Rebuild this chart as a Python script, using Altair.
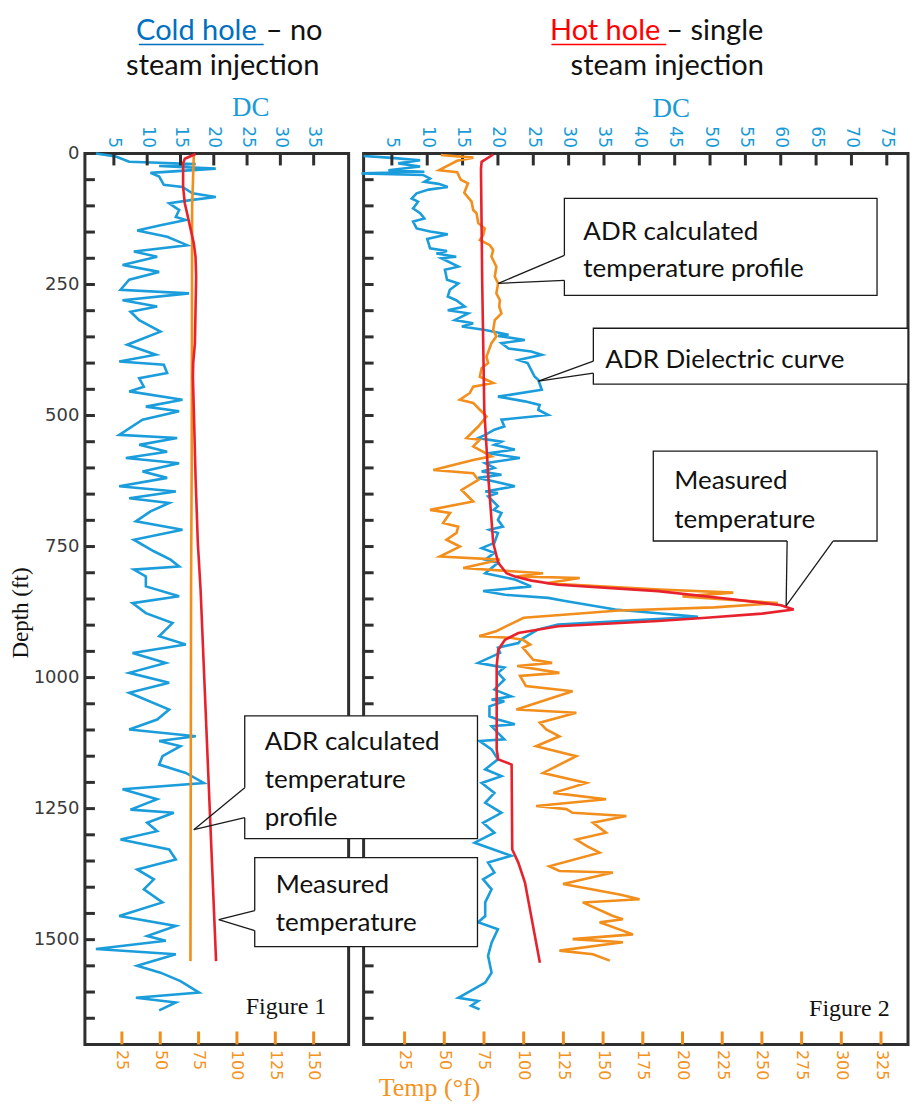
import altair as alt
import pandas as pd

# ---------------- data ----------------
# Left panel (cold hole) - ADR dielectric constant (DC) vs depth
L_DC_DEPTH = [0, 6, 16, 20, 24, 29, 37, 44, 60, 64,
              76, 83, 89, 95, 108, 121, 127, 137, 147, 159,
              175, 187, 197, 213, 226, 241, 260, 267, 280, 292,
              302, 318, 340, 365, 384, 397, 403, 419, 429, 445,
              454, 470, 483, 492, 508, 537, 543, 556, 569, 581,
              591, 607, 619, 635, 645, 658, 667, 683, 702, 718,
              737, 759, 775, 788, 794, 807, 826, 845, 858, 877,
              896, 921, 937, 953, 972, 991, 1010, 1029, 1061, 1080,
              1099, 1112, 1121, 1131, 1150, 1166, 1182, 1201, 1213, 1232,
              1252, 1258, 1277, 1293, 1309, 1328, 1347, 1366, 1385, 1404,
              1429, 1455, 1474, 1493, 1502, 1518, 1528, 1550, 1563, 1579,
              1601, 1611, 1620, 1635]
L_DC = [2.3, 5.3, 7.3, 17.3, 11.8, 20.3, 10.5, 11.8, 12.5, 15.3,
        16.8, 20.3, 16.5, 13.3, 14.8, 14.3, 15.8, 12.0, 8.5, 13.0,
        16.0, 8.0, 11.5, 6.3, 11.8, 7.3, 6.0, 16.3, 6.3, 11.5,
        7.5, 8.8, 12.0, 7.0, 11.3, 5.8, 12.5, 13.0, 8.8, 9.5,
        7.3, 15.3, 9.8, 14.8, 9.3, 5.8, 14.5, 8.8, 13.0, 6.8,
        14.8, 9.3, 13.0, 5.8, 14.3, 7.3, 13.3, 10.5, 8.3, 15.3,
        8.0, 11.0, 13.5, 14.8, 8.0, 9.8, 9.8, 14.8, 7.8, 9.8,
        13.8, 11.8, 15.8, 7.8, 12.8, 7.3, 13.3, 7.3, 13.3, 11.5,
        7.3, 17.3, 11.8, 15.0, 12.3, 11.8, 15.8, 18.5, 6.3, 11.5,
        7.5, 14.0, 10.0, 11.5, 6.0, 13.3, 14.3, 8.5, 11.0, 9.5,
        12.3, 5.8, 14.3, 10.0, 12.8, 2.3, 14.3, 8.5, 12.0, 15.0,
        17.8, 8.3, 14.3, 11.8]

# Left panel temperatures (deg F)
L_CALC_DEPTH = [1, 100, 600, 820, 1541]
L_CALC = [71.9, 70.8, 70.5, 70.1, 69.7]
L_MEAS_DEPTH = [1, 10, 19, 64, 95, 114, 143, 172, 197, 235,
                299, 362, 400, 426, 489, 616, 743, 832, 1541]
L_MEAS = [73.0, 66.0, 64.9, 64.9, 66.0, 67.5, 69.7, 71.9, 73.0, 73.4,
          73.0, 72.6, 71.5, 71.3, 71.9, 73.0, 74.5, 76.3, 86.4]

# Right panel (hot hole) - DC vs depth
R_DC_DEPTH = [5, 8, 13, 19, 25, 32, 35, 38, 41, 48,
              54, 58, 64, 69, 76, 86, 92, 105, 114, 124,
              130, 143, 149, 154, 163, 172, 181, 186, 191, 197,
              200, 216, 222, 241, 248, 260, 273, 280, 292, 299,
              305, 318, 324, 330, 337, 346, 348, 356, 362, 372,
              378, 384, 394, 400, 426, 432, 451, 464, 473, 480,
              489, 499, 508, 521, 527, 537, 543, 550, 556, 565,
              572, 581, 591, 600, 607, 613, 619, 626, 635, 645,
              648, 654, 673, 680, 686, 699, 712, 718, 724, 743,
              753, 762, 775, 781, 801, 813, 826, 835, 842, 848,
              854, 870, 884, 899, 908, 927, 934, 943, 953, 972,
              981, 991, 1004, 1023, 1036, 1042, 1045, 1055, 1074, 1080,
              1089, 1093, 1118, 1121, 1137, 1156, 1175, 1188, 1201, 1220,
              1239, 1258, 1277, 1296, 1315, 1340, 1353, 1372, 1385, 1404,
              1429, 1455, 1467, 1480, 1506, 1531, 1563, 1582, 1611, 1617,
              1626, 1633]
R_DC = [1.0, 4.5, 9.0, 5.9, 9.0, 4.5, 9.6, 0.7, 9.4, 10.4,
        9.6, 11.6, 12.9, 10.2, 8.5, 7.8, 8.7, 8.0, 9.0, 9.6,
        8.0, 8.5, 10.4, 12.9, 10.0, 10.2, 10.4, 12.8, 11.3, 14.1,
        12.0, 14.4, 12.5, 12.8, 14.4, 13.2, 12.9, 14.1, 15.3, 12.9,
        15.8, 13.9, 16.5, 14.9, 18.2, 21.5, 20.0, 23.8, 20.5, 21.5,
        24.7, 26.2, 22.9, 24.2, 25.2, 25.7, 26.2, 20.0, 23.8, 25.9,
        25.7, 27.1, 20.5, 20.9, 19.5, 18.2, 17.2, 20.5, 19.5, 22.4,
        18.6, 23.1, 18.2, 19.5, 17.7, 20.5, 17.2, 19.5, 22.4, 18.2,
        20.0, 18.6, 20.0, 19.4, 20.5, 20.0, 20.7, 18.8, 20.0, 19.5,
        17.7, 19.5, 18.2, 20.0, 18.2, 22.4, 24.7, 17.9, 21.0, 27.1,
        29.5, 36.6, 48.3, 28.5, 25.7, 23.3, 22.9, 20.0, 20.3, 17.2,
        20.9, 20.0, 20.9, 19.5, 21.9, 19.1, 20.9, 18.8, 18.8, 20.0,
        22.4, 19.1, 20.9, 17.4, 19.1, 20.0, 18.2, 20.5, 17.7, 19.5,
        18.2, 20.5, 17.9, 19.5, 16.7, 21.9, 18.6, 19.5, 17.9, 19.1,
        18.2, 18.2, 17.2, 20.0, 19.1, 18.6, 19.1, 18.2, 14.4, 17.2,
        16.2, 17.4]

# Right panel - ADR calculated temperature profile (deg F)
R_CALC_DEPTH = [3, 8, 14, 32, 36, 50, 57, 75, 92, 108,
                114, 133, 143, 156, 165, 175, 184, 197, 216, 235,
                248, 267, 280, 292, 305, 318, 337, 349, 362, 388,
                400, 410, 426, 438, 445, 457, 470, 476, 489, 502,
                521, 543, 546, 559, 578, 585, 604, 610, 623, 642,
                664, 680, 686, 705, 712, 724, 737, 750, 769, 775,
                791, 801, 807, 810, 820, 832, 838, 845, 858, 866,
                872, 880, 886, 896, 911, 921, 924, 928, 937, 943,
                966, 972, 978, 991, 997, 1016, 1026, 1061, 1067, 1086,
                1099, 1112, 1131, 1150, 1182, 1201, 1220, 1232, 1245, 1251,
                1258, 1264, 1277, 1296, 1309, 1321, 1334, 1360, 1369, 1372,
                1394, 1414, 1423, 1429, 1455, 1461, 1467, 1490, 1499, 1505,
                1521, 1528, 1540]
R_CALC = [47.8, 68.3, 58.1, 46.7, 58.1, 60.3, 64.9, 62.6, 67.2, 68.2,
          70.3, 71.4, 75.5, 74.5, 72.4, 78.7, 80.8, 79.7, 82.8, 81.8,
          83.9, 82.8, 85.0, 84.6, 86.0, 81.8, 80.8, 82.8, 79.7, 76.6,
          77.6, 73.5, 72.4, 80.8, 68.2, 66.1, 59.8, 68.2, 72.4, 76.6,
          71.4, 64.0, 72.4, 68.2, 79.7, 68.2, 43.1, 68.2, 71.4, 60.9,
          68.2, 41.0, 53.6, 49.3, 58.8, 57.7, 51.4, 59.8, 47.2, 85.0,
          61.9, 112.2, 95.4, 135.3, 114.3, 185.6, 232.0, 200.0, 260.0, 220.0,
          160.0, 125.0, 100.0, 93.1, 83.0, 72.0, 91.3, 99.5, 104.1, 99.5,
          106.0, 117.9, 95.9, 122.5, 97.7, 101.4, 130.8, 95.4, 133.1, 110.1,
          114.2, 122.5, 107.8, 133.1, 112.2, 139.5, 118.7, 151.9, 107.8, 126.9,
          130.8, 164.6, 143.6, 151.9, 133.1, 139.5, 147.8, 116.1, 122.5, 156.2,
          124.8, 160.4, 173.0, 137.2, 156.2, 162.5, 147.8, 168.8, 130.8, 162.5,
          122.5, 143.6, 154.2]

# Right panel - measured temperature (deg F)
R_MEAS_DEPTH = [2, 16, 30, 250, 490, 616, 743, 781, 801, 807,
                815, 823, 835, 850, 862, 870, 878, 886, 892, 902,
                915, 928, 947, 978, 1137, 1156, 1166, 1328, 1353, 1391,
                1544]
R_MEAS = [80.8, 73.5, 73.1, 73.9, 75.2, 77.7, 80.8, 84.0, 89.2, 94.5,
          105.0, 121.7, 184.6, 230.0, 262.0, 270.0, 250.0, 215.0, 184.6, 121.7,
          96.6, 88.2, 84.0, 83.0, 83.0, 84.0, 92.4, 92.8, 96.6, 100.8,
          110.2]

# Tick values / labels
DEPTH_LABELS = [0, 250, 500, 750, 1000, 1250, 1500]
DEPTH_TICKS = list(range(50, 1700, 50))
L_DC_TICKS = [5, 10, 15, 20, 25, 30, 35]
R_DC_TICKS = [5, 10, 15, 20, 25, 30, 35, 40, 45, 50, 55, 60, 65, 70, 75]
L_T_TICKS = [25, 50, 75, 100, 125, 150]
R_T_TICKS = [25, 50, 75, 100, 125, 150, 175, 200, 225, 250, 275, 300, 325]

# ---------------- style ----------------
BLUE = "#1b9ddb"
ORANGE = "#f28e1c"
RED = "#e8222d"
FRAME = "#2f2f2f"
DC_LABEL = "#1a9bd7"
T_LABEL = "#f39321"
TITLE_BLUE = "#0070c0"
TITLE_RED = "#ff0000"
INK = "#111111"

H = 892
LW = 264
RW = 545

ONE = pd.DataFrame({"k": [0]})
Y_SCALE = alt.Scale(domain=[0, 1700], reverse=True, nice=False, zero=False)


def text(s, x, y, size, color=INK, font="Lato", align="left",
         baseline="alphabetic", angle=0):
    kw = dict(text=s, font=font, fontSize=size, color=color, align=align,
              baseline=baseline)
    if angle:
        kw["angle"] = angle
    return alt.Chart(ONE).mark_text(**kw).encode(x=alt.value(x), y=alt.value(y))


def seg(x1, y1, x2, y2, color, width):
    return alt.Chart(ONE).mark_rule(color=color, strokeWidth=width).encode(
        x=alt.value(x1), y=alt.value(y1), x2=alt.value(x2), y2=alt.value(y2))


def hline(x1, x2, y, color, width):
    return alt.Chart(ONE).mark_rule(color=color, strokeWidth=width).encode(
        x=alt.value(x1), x2=alt.value(x2), y=alt.value(y))


def callout(box, pointer, lines, tx, baselines, size=26):
    x1, y1, x2, y2 = box
    (bx1, by1), (px, py), (bx2, by2) = pointer
    parts = [
        alt.Chart(ONE).mark_rect(fill="white", stroke="#1a1a1a", strokeWidth=1.3).encode(
            x=alt.value(x1), x2=alt.value(x2), y=alt.value(y1), y2=alt.value(y2)),
        seg(bx1, by1, bx2, by2, "white", 3),
        seg(bx1, by1, px, py, "#1a1a1a", 1.3),
        seg(px, py, bx2, by2, "#1a1a1a", 1.3),
    ]
    for s, b in zip(lines, baselines):
        parts.append(text(s, tx, b, size))
    return parts


def series(depths, vals):
    return pd.DataFrame({"depth": depths, "v": vals, "i": list(range(len(depths)))})


def panel(width, dc_dom, t_dom, dc_d, dc_v, calc_d, calc_v, meas_d, meas_v,
          dc_ticks, t_ticks, show_y, extras):
    if show_y:
        yax = alt.Axis(values=DEPTH_LABELS, format="d", ticks=False, domain=False,
                       grid=False, title=None, labelFont="DejaVu Sans", labelFontSize=18,
                       labelColor="#3a3a3a", labelPadding=6, labelOverlap=False)
    else:
        yax = None
    y = alt.Y("depth:Q", scale=Y_SCALE, axis=yax)

    dc_axis = alt.Axis(orient="top", values=dc_ticks, ticks=False, domain=False,
                       grid=False, title=None, labelAngle=90, labelAlign="right",
                       labelBaseline="middle", labelPadding=6, labelFont="DejaVu Sans",
                       labelFontSize=17, labelColor=DC_LABEL, labelOverlap=False,
                       labelFlush=False)
    x_dc = alt.X("v:Q", scale=alt.Scale(domain=dc_dom, nice=False, zero=False),
                 axis=dc_axis)
    blue = alt.Chart(series(dc_d, dc_v)).mark_line(color=BLUE, strokeWidth=2.6).encode(
        x=x_dc, y=y, order="i:Q")
    dcticks = alt.Chart(pd.DataFrame({"v": dc_ticks})).mark_rule(
        color=FRAME, strokeWidth=3).encode(x=x_dc, y=alt.value(0), y2=alt.value(12))

    t_axis = alt.Axis(orient="bottom", values=t_ticks, ticks=False, domain=False,
                      grid=False, title=None, labelAngle=90, labelAlign="left",
                      labelBaseline="middle", labelPadding=5, labelFont="DejaVu Sans",
                      labelFontSize=16, labelColor=T_LABEL, labelOverlap=False,
                      labelFlush=False)
    x_t = alt.X("v:Q", scale=alt.Scale(domain=t_dom, nice=False, zero=False),
                axis=t_axis)
    calc = alt.Chart(series(calc_d, calc_v)).mark_line(color=ORANGE, strokeWidth=2.6).encode(
        x=x_t, y=y, order="i:Q")
    meas = alt.Chart(series(meas_d, meas_v)).mark_line(color=RED, strokeWidth=2.6).encode(
        x=x_t, y=y, order="i:Q")
    tticks = alt.Chart(pd.DataFrame({"v": t_ticks})).mark_rule(
        color=ORANGE, strokeWidth=3).encode(x=x_t, y=alt.value(H - 13), y2=alt.value(H))

    dticks = alt.Chart(pd.DataFrame({"depth": DEPTH_TICKS})).mark_rule(
        color=FRAME, strokeWidth=3).encode(y=y, x=alt.value(0), x2=alt.value(10))

    layers = [alt.layer(blue, dcticks), alt.layer(calc, meas, tticks), dticks] + extras
    return alt.layer(*layers).resolve_scale(x="independent").properties(
        width=width, height=H)


T1 = -114   # first title line baseline (relative to plot top)
T2 = -79    # second title line baseline

left_extras = [
    text("Cold hole", 172, T1, 29, color=TITLE_BLUE, align="right"),
    hline(54, 179, T1 + 5, TITLE_BLUE, 1.5),
    text("\u2013 no", 181, T1, 29),
    text("steam injection", 138, T2, 29, align="center"),
    text("DC", 166, -37, 27, color=DC_LABEL, font="Liberation Serif", align="center"),
    text("Figure 1", 161, 862, 24, font="Liberation Serif"),
    text("Depth (ft)", -64, 460, 23, font="Liberation Serif", align="center",
         baseline="middle", angle=270),
]

right_extras = [
    text("Hot hole", 297, T1, 29, color=TITLE_RED, align="right"),
    hline(188, 303, T1 + 5, TITLE_RED, 1.5),
    text("\u2013 single", 303, T1, 29),
    text("steam injection", 304, T2, 29, align="center"),
    text("DC", 308, -36, 27, color=DC_LABEL, font="Liberation Serif", align="center"),
    text("Figure 2", 446, 864, 24, font="Liberation Serif"),
    text("Temp (\u00b0f)", 66, H + 52, 26, color=T_LABEL, font="Liberation Serif",
         align="center"),
]
right_extras += callout((201, 45, 514, 142), ((201, 102), (135, 130), (201, 127)),
                        ["ADR calculated", "temperature profile"], 220, [87, 124])
right_extras += callout((230, 175, 545, 231), ((230, 208), (175, 228), (230, 220)),
                        ["ADR Dielectric curve"], 242, [215])
right_extras += callout((290, 298, 514, 388), ((424, 388), (423, 453), (470, 388)),
                        ["Measured", "temperature"], 311, [336, 375])
right_extras += callout((-119, 563, 114, 686), ((-119, 635), (-170, 677), (-119, 665)),
                        ["ADR calculated", "temperature", "profile"], -99, [597, 635, 673])
right_extras += callout((-109, 705, 114, 794), ((-109, 758), (-145, 767), (-109, 778)),
                        ["Measured", "temperature"], -88, [740, 778])

left = panel(LW, [0.65, 40.25], [0.9, 172.8], L_DC_DEPTH, L_DC, L_CALC_DEPTH, L_CALC,
             L_MEAS_DEPTH, L_MEAS, L_DC_TICKS, L_T_TICKS, True, left_extras)
right = panel(RW, [1.0, 78.0], [-0.8, 342.0], R_DC_DEPTH, R_DC, R_CALC_DEPTH, R_CALC,
              R_MEAS_DEPTH, R_MEAS, R_DC_TICKS, R_T_TICKS, False, right_extras)

chart = alt.hconcat(left, right, spacing=15, bounds="flush").properties(
    padding={"top": 6, "left": 0, "right": 0, "bottom": 3},
    background="white").configure_view(stroke=FRAME, strokeWidth=3)

chart.save("out.html", embed_options={"renderer": "svg", "actions": False})
